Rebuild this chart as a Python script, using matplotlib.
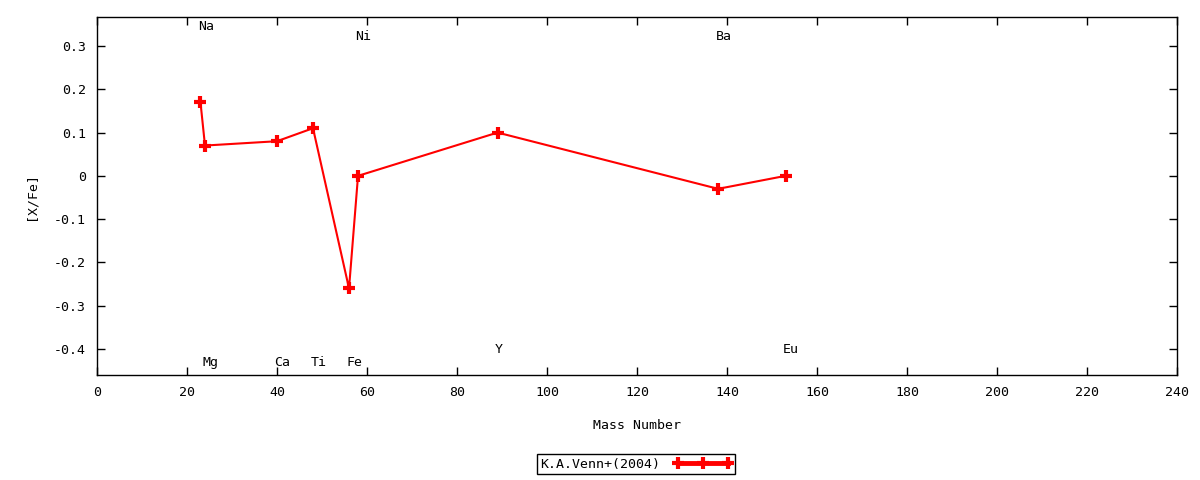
import matplotlib
matplotlib.use("Agg")
import matplotlib.pyplot as plt
from matplotlib.ticker import FuncFormatter, MultipleLocator

elements = ["Na", "Mg", "Ca", "Ti", "Fe", "Ni", "Y", "Ba", "Eu"]
mass = [23, 24, 40, 48, 56, 58, 89, 138, 153]
xfe = [0.17, 0.07, 0.08, 0.11, -0.26, 0.00, 0.10, -0.03, 0.00]
label_y = [0.344, -0.432, -0.432, -0.432, -0.432, 0.321, -0.40, 0.321, -0.40]
series_name = "K.A.Venn+(2004)"

plt.rcParams['font.family'] = ['DejaVu Sans Mono']
plt.rcParams['font.size'] = 9.5

fig = plt.figure(figsize=(12, 4.8), dpi=100)
ax = fig.add_axes([0.0808, 0.21875, 0.9002, 0.7459])

ax.plot(mass, xfe, color='#ff0000', lw=1.5, marker='+', markersize=9,
        markeredgewidth=3, label=series_name)

for el, m, ly in zip(elements, mass, label_y):
    ax.text(m - 0.6, ly, el, ha='left', va='center', fontsize=9.5)

ax.set_xlim(0, 240)
ax.set_ylim(-0.46, 0.367)
ax.xaxis.set_major_locator(MultipleLocator(20))
ax.yaxis.set_major_locator(MultipleLocator(0.1))
ax.yaxis.set_major_formatter(FuncFormatter(lambda v, p: "%g" % round(v, 2)))
ax.tick_params(direction='in', top=True, right=True, length=6, width=1,
               labelsize=9.5, pad=8)
for s in ax.spines.values():
    s.set_linewidth(1)

ax.set_xlabel("Mass Number", labelpad=14)
ax.set_ylabel("[X/Fe]", labelpad=12)

leg = ax.legend(loc='center', bbox_to_anchor=(0.499, -0.249), ncol=1,
                frameon=True, fancybox=False, edgecolor='black',
                markerfirst=False, numpoints=3, handlelength=4.4,
                handletextpad=1.0, borderpad=0.25, framealpha=1)
leg.get_frame().set_linewidth(1)
for ln in leg.get_lines():
    ln.set_linewidth(3.5)
    ln.set_markersize(9)

fig.savefig("out.png", dpi=100)
